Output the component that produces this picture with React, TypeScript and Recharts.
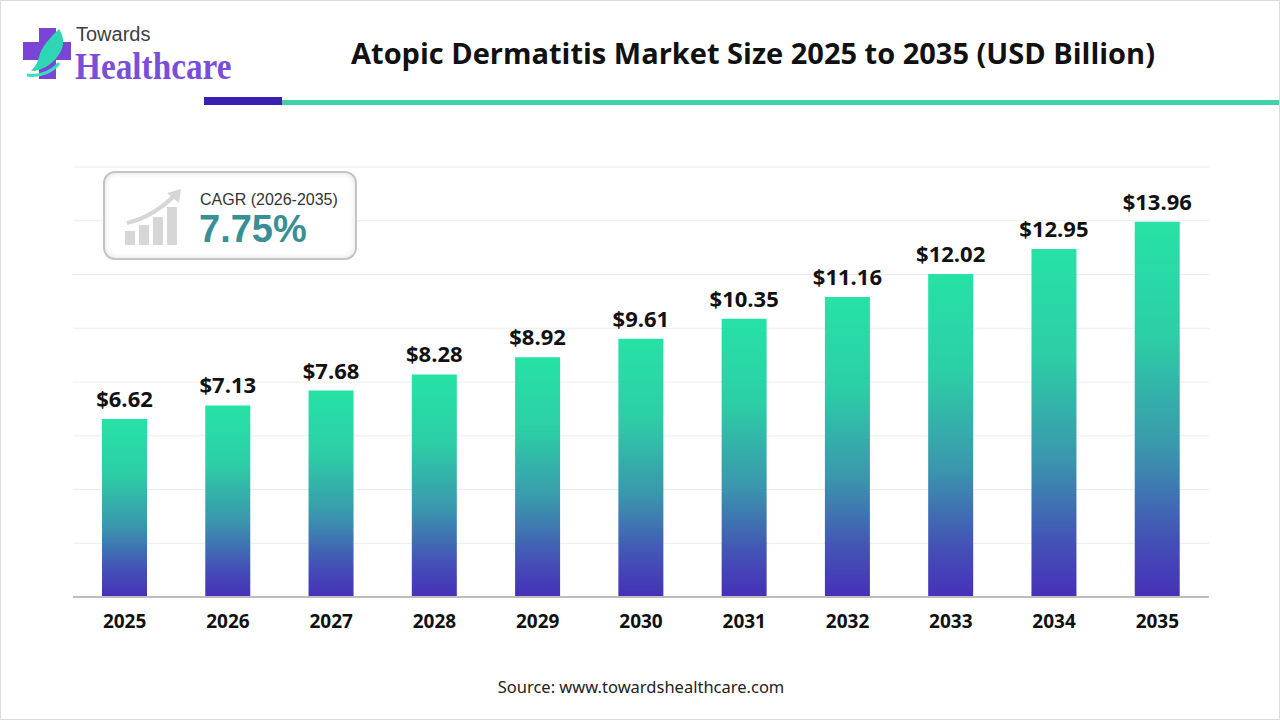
import { BarChart, Bar, XAxis, YAxis, CartesianGrid, LabelList } from "recharts";

const years = ["2025", "2026", "2027", "2028", "2029", "2030", "2031", "2032", "2033", "2034", "2035"];
const marketSize = [6.62, 7.13, 7.68, 8.28, 8.92, 9.61, 10.35, 11.16, 12.02, 12.95, 13.96];
const yTicks = [0, 2, 4, 6, 8, 10, 12, 14, 16];

const data = years.map((year, i) => ({ year, value: marketSize[i] }));

const FONT = "'Open Sans', 'Noto Sans', sans-serif";

const CagrIcon = () => (
  <svg width={66} height={60} viewBox="0 0 66 60">
    <rect x={2} y={44} width={10} height={14} fill="#d6d6d6" />
    <rect x={16} y={38} width={10} height={20} fill="#d6d6d6" />
    <rect x={30} y={30} width={10} height={28} fill="#d6d6d6" />
    <rect x={44} y={20} width={10} height={38} fill="#d6d6d6" />
    <path d="M4 36 Q30 30 52 8" stroke="#d6d6d6" strokeWidth={4} fill="none" />
    <path d="M44 6 L58 2 L56 16 Z" fill="#d6d6d6" />
  </svg>
);

export default function App() {
  return (
    <div
      style={{
        position: "absolute",
        left: 0,
        top: 0,
        width: 1280,
        height: 720,
        boxSizing: "border-box",
        border: "1px solid #dcdcdc",
        background: "#fff",
        overflow: "hidden",
      }}
    >
      {/* logo */}
      <svg style={{ position: "absolute", left: 20, top: 24 }} width={54} height={58} viewBox="0 0 54 58">
        <path d="M18 3 H35 V17 H50 V35 H35 V54 H18 V35 H2 V17 H18 Z" fill="#7a45d6" />
        <path d="M10 46 C22 46 34 38 40 26 C44 18 42 10 38 4 C30 12 20 22 18 32 C16 40 12 44 10 46 Z" fill="#2fd6b3" />
        <path d="M6 50 C20 52 32 46 38 38" stroke="#37e0c0" strokeWidth={3} fill="none" />
      </svg>
      <div
        style={{
          position: "absolute",
          left: 75,
          top: 23,
          lineHeight: "20px",
          fontFamily: "'Liberation Sans', sans-serif",
          fontSize: 20,
          color: "#3e3e3e",
        }}
      >
        Towards
      </div>
      <div
        style={{
          position: "absolute",
          left: 74,
          top: 49,
          lineHeight: "34px",
          fontFamily: "'Liberation Serif', serif",
          fontSize: 37,
          fontWeight: 700,
          color: "#7a4fd8",
          transform: "scaleX(0.9)",
          transformOrigin: "left top",
        }}
      >
        Healthcare
      </div>

      {/* title */}
      <div
        style={{
          position: "absolute",
          left: 280,
          width: 944,
          top: 32,
          lineHeight: "40px",
          textAlign: "center",
          fontFamily: FONT,
          fontSize: 29,
          fontWeight: 700,
          color: "#111",
        }}
      >
        Atopic Dermatitis Market Size 2025 to 2035 (USD Billion)
      </div>
      <div style={{ position: "absolute", left: 203, top: 96, width: 78, height: 8, background: "#3a1fb3" }} />
      <div style={{ position: "absolute", left: 281, top: 99, width: 1000, height: 5, background: "#3fd1a8" }} />

      <div style={{ position: "absolute", left: 0, top: 0 }}>
        <BarChart
          width={1280}
          height={720}
          data={data}
          margin={{ top: 166, right: 72, bottom: 94, left: 72 }}
        >
          <defs>
            <linearGradient id="barGrad" x1="0" y1="0" x2="0" y2="1">
              <stop offset="0%" stopColor="#26e2a6" />
              <stop offset="30%" stopColor="#2ccfa6" />
              <stop offset="60%" stopColor="#3a97ad" />
              <stop offset="85%" stopColor="#4450b6" />
              <stop offset="100%" stopColor="#4630b8" />
            </linearGradient>
          </defs>
          <CartesianGrid vertical={false} stroke="#ececec" />
          <YAxis hide domain={[0, 16]} ticks={yTicks} />
          <XAxis
            dataKey="year"
            axisLine={{ stroke: "#bdbdbd", strokeWidth: 2 }}
            tickLine={false}
            tickMargin={12}
            tick={{ fill: "#111", fontSize: 19, fontWeight: 700, fontFamily: FONT }}
          />
          <Bar dataKey="value" fill="url(#barGrad)" barSize={45} isAnimationActive={false}>
            <LabelList
              dataKey="value"
              position="top"
              offset={12}
              formatter={(v: number) => `$${v.toFixed(2)}`}
              style={{ fill: "#111", fontSize: 22, fontWeight: 700, fontFamily: FONT }}
            />
          </Bar>
        </BarChart>
      </div>

      {/* CAGR box */}
      <div
        style={{
          position: "absolute",
          left: 102,
          top: 170,
          width: 254,
          height: 89,
          boxSizing: "border-box",
          border: "2px solid #c4c4c4",
          borderRadius: 12,
          background: "#fff",
          boxShadow: "inset 0 0 6px rgba(0,0,0,0.12)",
        }}
      >
        <div style={{ position: "absolute", left: 18, top: 14 }}>
          <CagrIcon />
        </div>
        <div
          style={{
            position: "absolute",
            left: 95,
            top: 17,
            lineHeight: "20px",
            fontFamily: "'Liberation Sans', Arial, sans-serif",
            fontSize: 16,
            color: "#333",
          }}
        >
          CAGR (2026-2035)
        </div>
        <div
          style={{
            position: "absolute",
            left: 94,
            top: 38,
            lineHeight: "36px",
            fontFamily: "'Liberation Sans', Arial, sans-serif",
            fontSize: 38,
            fontWeight: 700,
            color: "#3a8f97",
          }}
        >
          7.75%
        </div>
      </div>

      {/* source */}
      <div
        style={{
          position: "absolute",
          left: 0,
          width: 1280,
          top: 675,
          lineHeight: "22px",
          textAlign: "center",
          fontFamily: "'Noto Sans', sans-serif",
          fontSize: 16.5,
          color: "#222",
        }}
      >
        Source: www.towardshealthcare.com
      </div>
    </div>
  );
}
